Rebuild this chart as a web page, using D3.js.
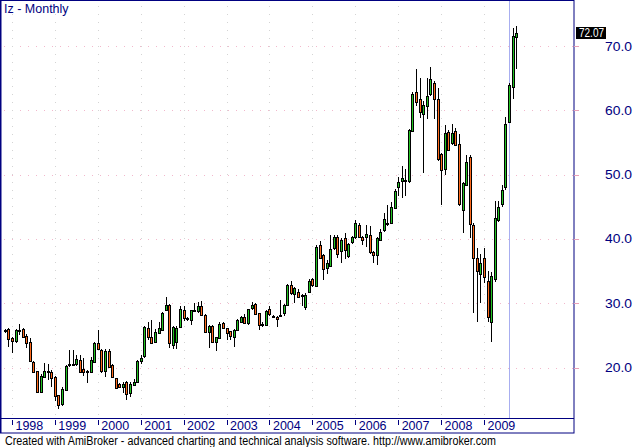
<!DOCTYPE html>
<html lang="en">
<head>
<meta charset="utf-8">
<title>Iz - Monthly</title>
<script src="https://d3js.org/d3.v7.min.js"></script>
<style>
  body { margin: 0; background: #fff; }
  text { font-family: "Liberation Sans", Arial, sans-serif; }
</style>
</head>
<body>
<div id="chart"></div>
<script>

// monthly bars, Nov 1997 .. Oct 2009
var opens = [25.6,26.0,24.6,24.2,25.8,26.0,24.9,23.9,20.9,19.4,16.2,18.6,19.4,19.3,18.5,15.7,14.2,16.5,20.3,20.4,
  20.5,21.2,19.7,19.4,19.4,20.9,23.8,22.7,19.5,22.6,20.4,18.3,17.5,17.0,17.7,16.1,17.4,17.8,20.9,21.8,
  26.1,24.7,24.0,25.4,25.9,29.0,29.7,23.5,24.0,26.3,28.9,27.7,27.3,28.8,28.7,29.6,28.2,25.5,26.45,24.0,
  24.7,26.9,26.1,25.6,24.8,25.8,27.1,27.8,26.8,29.2,29.9,28.4,26.7,26.6,29.05,27.9,27.9,28.1,28.4,29.7,
  32.8,31.3,31.8,31.2,29.4,31.8,33.7,32.7,39.05,37.5,35.4,35.9,38.5,40.25,38.2,40.1,37.3,39.4,40.25,42.2,
  40.3,40.4,40.6,37.9,37.5,39.8,41.3,42.4,42.5,44.8,48.0,49.0,49.1,48.9,56.9,62.8,61.7,59.4,60.7,62.5,
  64.2,61.7,53.15,50.8,56.6,54.8,56.8,54.7,44.5,48.4,52.8,42.2,37.0,34.5,37.0,33.5,27.0,33.7,43.05,45.5,
  48.1,58.2,63.6,71.45];
var highs = [26.0,26.1,24.7,26.0,26.7,26.1,25.2,24.6,21.0,19.5,19.0,20.7,20.6,19.6,18.7,15.8,17.0,20.4,22.7,22.7,
  22.0,22.0,21.4,19.6,21.6,24.0,25.8,22.9,22.8,22.8,20.6,18.4,17.6,17.8,17.9,17.7,18.2,21.1,22.0,26.5,
  27.1,27.4,26.0,27.1,28.6,31.0,29.8,26.5,26.4,29.6,29.6,27.9,29.0,30.0,30.2,30.4,28.3,26.6,26.6,24.8,
  27.1,27.1,26.2,25.7,26.0,27.5,28.0,28.3,29.1,30.2,30.0,28.5,27.0,28.9,29.5,28.1,28.0,30.5,29.8,33.0,
  33.5,32.5,32.2,31.4,31.6,33.8,33.9,39.0,39.6,37.7,36.7,40.6,40.6,40.6,40.1,40.9,39.4,40.4,43.0,42.4,
  40.4,42.2,42.0,38.1,40.3,41.5,44.0,45.3,45.8,47.7,49.7,51.3,50.8,57.1,62.8,66.4,65.0,61.5,65.0,66.7,
  64.5,63.5,53.3,57.7,57.0,57.9,57.3,56.3,48.8,53.0,53.0,42.4,38.6,37.6,38.6,35.0,34.9,45.9,45.9,48.4,
  59.0,64.2,72.75,73.1];
var lows = [25.3,23.2,22.2,23.8,25.0,24.6,23.0,20.8,19.2,16.0,16.1,18.3,18.1,17.0,14.8,13.6,14.0,16.4,20.1,20.2,
  20.3,19.1,18.7,17.6,19.3,20.8,22.8,19.2,18.6,20.0,18.3,16.6,16.8,16.0,15.0,15.4,17.2,17.6,20.5,21.5,
  24.2,23.7,23.9,25.2,25.8,28.8,23.0,22.8,22.9,26.2,27.3,27.3,26.6,28.6,28.5,28.0,25.5,23.0,23.9,22.5,
  24.6,26.0,24.3,24.3,23.2,25.6,26.9,26.7,26.6,29.0,28.1,25.9,26.3,26.4,28.0,27.7,26.3,28.0,28.0,29.5,
  31.3,30.0,30.8,29.5,29.0,31.6,32.5,32.5,36.8,33.6,34.5,35.7,38.3,37.0,36.2,36.9,37.0,39.2,40.0,40.1,
  39.0,38.7,37.7,36.2,35.9,39.6,41.1,42.0,42.3,44.6,46.6,46.4,46.6,48.7,56.7,60.7,58.8,50.3,58.6,62.3,
  58.6,52.1,45.3,50.0,53.6,54.6,54.4,45.1,40.85,48.2,40.1,28.5,27.0,30.1,33.2,27.0,24.0,33.3,42.7,45.0,
  47.6,58.0,61.7,66.4];
var closes = [25.8,24.4,24.1,25.9,25.9,24.8,23.8,20.9,19.4,16.1,18.7,19.5,19.5,18.4,15.5,14.2,16.6,20.2,20.5,20.5,
  21.3,19.3,19.2,19.5,21.2,23.8,22.9,19.5,22.6,20.1,18.5,16.8,17.0,17.4,15.9,17.5,17.8,21.0,21.4,26.3,
  24.7,23.8,25.5,26.2,28.5,29.7,23.8,26.3,26.2,29.05,27.6,27.6,28.9,28.9,29.5,28.2,25.6,26.45,24.0,24.7,
  26.8,26.1,25.4,24.9,25.9,27.4,27.8,26.9,29.05,29.7,28.3,26.6,26.6,28.8,28.2,28.0,27.6,28.2,29.7,32.8,
  31.5,32.3,31.0,31.3,31.3,33.5,32.8,38.8,37.0,35.4,36.2,38.5,40.25,37.6,39.9,38.3,39.2,40.25,42.4,40.3,
  39.9,40.8,37.9,37.4,40.1,41.0,43.05,42.2,45.0,47.5,48.85,49.4,48.9,56.9,62.6,61.3,59.7,60.8,62.2,64.8,
  61.7,52.3,50.7,56.4,53.8,56.4,54.6,45.3,48.65,51.9,42.4,37.1,35.0,36.2,34.05,27.9,34.2,43.2,45.0,47.6,
  57.9,63.9,71.55,72.07];

// year labels and the bar index where each year starts
var years = ["1998","1999","2000","2001","2002","2003","2004","2005","2006","2007","2008","2009"];
var yearBars = [2,14,26,38,50,62,74,86,98,110,122,134];
var priceTicks = [20,30,40,50,60,70];

var W = 635, H = 447;
var plotRight = 574, plotBottom = 418, stripBottom = 433;
var navy = "#000080";

var svg = d3.select("#chart")
  .append("svg")
    .attr("width", W)
    .attr("height", H);

var x = d3.scaleLinear()
  .domain([0, closes.length - 1])
  .range([4.8, 516.2]);

var y = d3.scaleLinear()
  .domain([20, 70])
  .range([367.5, 46]);

// dotted grid
svg.append("g")
  .selectAll("line")
  .data(priceTicks)
  .enter()
  .append("line")
    .attr("x1", 4).attr("x2", plotRight)
    .attr("y1", function(d) { return Math.round(y(d)) + 0.5; })
    .attr("y2", function(d) { return Math.round(y(d)) + 0.5; })
    .attr("stroke", "#f2b8cc")
    .attr("stroke-dasharray", "1,7");

svg.append("g")
  .selectAll("line")
  .data(yearBars)
  .enter()
  .append("line")
    .attr("x1", function(d) { return Math.round(x(d)) + 0.5; })
    .attr("x2", function(d) { return Math.round(x(d)) + 0.5; })
    .attr("y1", 6).attr("y2", plotBottom)
    .attr("stroke", "#d4d4d4")
    .attr("stroke-dasharray", "1,7");

// selected bar marker
svg.append("line")
  .attr("x1", 509.5).attr("x2", 509.5)
  .attr("y1", 0).attr("y2", plotBottom)
  .attr("stroke", "#a8aef0");

// candles
var bars = d3.range(closes.length);
var candles = svg.append("g").attr("shape-rendering", "crispEdges");

candles.selectAll(".wick")
  .data(bars)
  .enter()
  .append("line")
    .attr("class", "wick")
    .attr("x1", function(i) { return Math.round(x(i)) + 0.5; })
    .attr("x2", function(i) { return Math.round(x(i)) + 0.5; })
    .attr("y1", function(i) { return Math.round(y(highs[i])); })
    .attr("y2", function(i) { return Math.round(y(lows[i])); })
    .attr("stroke", "#000");

candles.selectAll(".body")
  .data(bars)
  .enter()
  .append("rect")
    .attr("class", "body")
    .attr("x", function(i) { return Math.round(x(i)) - 0.5; })
    .attr("y", function(i) { return Math.round(y(Math.max(opens[i], closes[i]))) + 0.5; })
    .attr("width", 2)
    .attr("height", function(i) {
      return Math.max(1, Math.round(Math.abs(y(opens[i]) - y(closes[i]))));
    })
    .attr("fill", function(i) { return closes[i] >= opens[i] ? "#22c322" : "#ff6a1c"; })
    .attr("stroke", "#000");

// frame
svg.append("rect")
  .attr("x", 0.5).attr("y", 0.5)
  .attr("width", plotRight - 0.5).attr("height", stripBottom - 0.5)
  .attr("fill", "none")
  .attr("stroke", navy);
svg.append("line")
  .attr("x1", 1).attr("x2", 1).attr("y1", 0).attr("y2", stripBottom)
  .attr("stroke", navy);
svg.append("line")
  .attr("x1", 0).attr("x2", plotRight)
  .attr("y1", plotBottom + 0.5).attr("y2", plotBottom + 0.5)
  .attr("stroke", navy);

// right price axis
var ax = svg.append("g").selectAll("g")
  .data(priceTicks)
  .enter()
  .append("g");
ax.append("line")
  .attr("x1", plotRight).attr("x2", plotRight + 5)
  .attr("y1", function(d) { return Math.round(y(d)) + 0.5; })
  .attr("y2", function(d) { return Math.round(y(d)) + 0.5; })
  .attr("stroke", "#e8a0b8");
ax.append("text")
  .attr("x", 605)
  .attr("y", function(d) { return y(d) + 4.5; })
  .style("font-size", "12.5px")
  .attr("fill", navy)
  .attr("textLength", 27)
  .attr("lengthAdjust", "spacingAndGlyphs")
  .text(function(d) { return d.toFixed(1); });

// last value box
var last = closes[closes.length - 1];
svg.append("rect")
  .attr("x", 576).attr("y", Math.round(y(last)) - 6)
  .attr("width", 30).attr("height", 12)
  .attr("fill", "#000");
svg.append("text")
  .attr("x", 579).attr("y", y(last) + 4.5)
  .style("font-size", "12px")
  .attr("fill", "#fff")
  .attr("textLength", 25)
  .attr("lengthAdjust", "spacingAndGlyphs")
  .text(last.toFixed(2));

// year axis
var yr = svg.append("g").selectAll("g")
  .data(yearBars)
  .enter()
  .append("g");
yr.append("line")
  .attr("x1", function(d) { return Math.round(x(d)) + 0.5; })
  .attr("x2", function(d) { return Math.round(x(d)) + 0.5; })
  .attr("y1", plotBottom + 2).attr("y2", plotBottom + 7)
  .attr("stroke", navy);
yr.append("text")
  .attr("x", function(d) { return x(d) + 3.5; })
  .attr("y", 429.5)
  .style("font-size", "12.5px")
  .attr("fill", navy)
  .text(function(d, i) { return years[i]; });

// title and footer
svg.append("text")
  .attr("x", 4).attr("y", 13)
  .style("font-size", "12.5px")
  .attr("fill", navy)
  .text("Iz - Monthly");

svg.append("text")
  .attr("x", 5).attr("y", 445)
  .style("font-size", "12px")
  .attr("fill", "#000")
  .attr("textLength", 491)
  .attr("lengthAdjust", "spacingAndGlyphs")
  .text("Created with AmiBroker - advanced charting and technical analysis software. http://www.amibroker.com");

</script>
</body>
</html>
